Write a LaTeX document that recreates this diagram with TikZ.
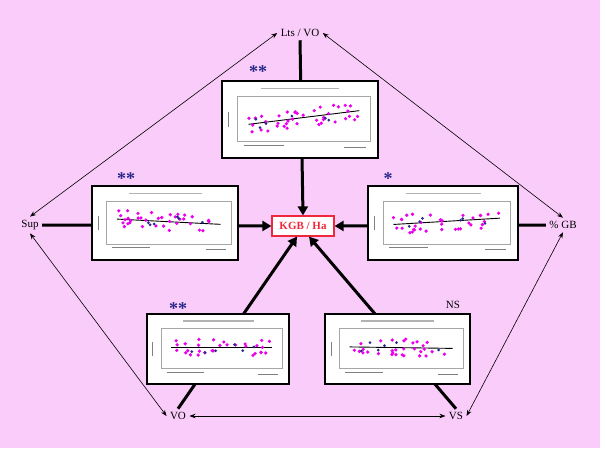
\documentclass[tikz,border=0pt]{standalone}
\usepackage{fontspec}
\setmainfont{Liberation Serif}
\usetikzlibrary{arrows.meta}
\definecolor{bgpink}{RGB}{250,204,250}
\definecolor{kred}{RGB}{240,40,60}
\definecolor{dotm}{RGB}{235,0,235}
\definecolor{dotb}{RGB}{40,40,140}
\tikzset{
  lbl/.style={font=\fontsize{11}{13}\selectfont},
  thick arrow/.style={line width=3pt,-{Triangle[length=9pt,width=10pt]}},
  thin arrow/.style={line width=0.6pt,{Stealth[length=6pt]}-{Stealth[length=6pt]}},
  chartbox/.style={draw=black,line width=1.2pt,fill=white,inner sep=0pt},
  star/.style={font=\fontsize{18}{18}\selectfont\bfseries,text=dotb},
}
\newcommand{\mychart}[4]{% name, center, width, height
  \node[chartbox,minimum width=#3pt,minimum height=#4pt] (#1) at (#2) {};
  \begin{scope}[shift={(#1.center)}]
    \draw[gray!60,line width=1.5pt] (-0.25*#3,-0.40*#4) -- (0.25*#3,-0.40*#4);
    \draw[gray!70,fill=white] (-0.40*#3,-0.30*#4) rectangle (0.45*#3,0.28*#4);
    \draw[gray,line width=0.8pt] (-0.36*#3,0.33*#4) -- (-0.1*#3,0.33*#4);
    \draw[gray,line width=0.8pt] (0.28*#3,0.36*#4) -- (0.42*#3,0.36*#4);
    \draw[gray,line width=0.6pt] (-0.46*#3,-0.1*#4) -- (-0.46*#3,0.1*#4);
  \end{scope}
}
\begin{document}
\begin{tikzpicture}[x=1pt,y=-1pt]
\fill[bgpink] (0,0) rectangle (600,448);
\useasboundingbox (0,0) rectangle (600,448);
% labels
\node[lbl] (lts) at (300,33) {Lts / VO};
\node[lbl] (sup) at (30,225) {Sup};
\node[lbl] (gb) at (563,225) {\% GB};
\node[lbl] (vo) at (178,416) {VO};
\node[lbl] (vs) at (456,416) {VS};
\node[draw=kred,line width=1.2pt,fill=white,text=kred,font=\fontsize{11}{13}\selectfont\bfseries,minimum width=62pt,minimum height=20pt,inner sep=2pt] (kgb) at (303,226) {KGB / Ha};
% thin arrows
\draw[thin arrow] (lts.west) -- (sup.north);
\draw[thin arrow] (lts.east) -- (gb.north);
\draw[thin arrow] (sup.south) -- (vo.west);
\draw[thin arrow] (gb.south) -- (vs.east);
\draw[thin arrow] (vo.east) -- (vs.west);
% thick arrows
\draw[thick arrow] (lts.south) -- (kgb.north);
\draw[thick arrow] (sup.east) -- (kgb.west);
\draw[thick arrow] (gb.west) -- (kgb.east);
\draw[thick arrow] (vo.north) -- ([xshift=-6pt]kgb.south);
\draw[thick arrow] (vs.north) -- ([xshift=6pt]kgb.south);
% charts
\mychart{ctop}{300,119.5}{156}{77}
\mychart{cleft}{165,223}{146}{74}
\mychart{cright}{443,223}{150}{74}
\mychart{cbl}{218,349}{142}{70}
\mychart{cbr}{397.5,349}{145}{70}
% data
\pgfmathsetseed{7}
\newcommand{\points}[5]{% name,w,h,slope,n
  \begin{scope}[shift={(#1.center)}]
  \draw[black,line width=0.9pt] (-0.33*#2,{-0.02*#3+#4*0.33*#3}) -- (0.38*#2,{-0.02*#3-#4*0.38*#3});
  \foreach \i in {1,...,#5}{
    \pgfmathsetmacro{\px}{-0.33*#2+rnd*0.71*#2}
    \pgfmathsetmacro{\py}{-0.02*#3-#4*\px*#3/#2+(rnd-0.5)*0.25*#3}
    \fill[dotm] (\px,\py) circle (1.8pt);
  }
  \foreach \i in {1,...,6}{
    \pgfmathsetmacro{\px}{-0.3*#2+rnd*0.6*#2}
    \pgfmathsetmacro{\py}{-0.02*#3-#4*\px*#3/#2+(rnd-0.5)*0.15*#3}
    \fill[dotb] (\px,\py) circle (1.5pt);
  }
  \end{scope}}
\points{ctop}{156}{77}{0.25}{40}
\points{cleft}{146}{74}{-0.1}{35}
\points{cright}{150}{74}{0.12}{35}
\points{cbl}{142}{70}{0}{30}
\points{cbr}{145}{70}{-0.03}{30}
% stars
\node[star] (s1) at (258,72) {**};
\node[star] (s2) at (126,179) {**};
\node[star] (s3) at (388,179) {*};
\node[star] (s4) at (178,309) {**};
\node[lbl] (s5) at (453,305) {NS};
\end{tikzpicture}
\end{document}
